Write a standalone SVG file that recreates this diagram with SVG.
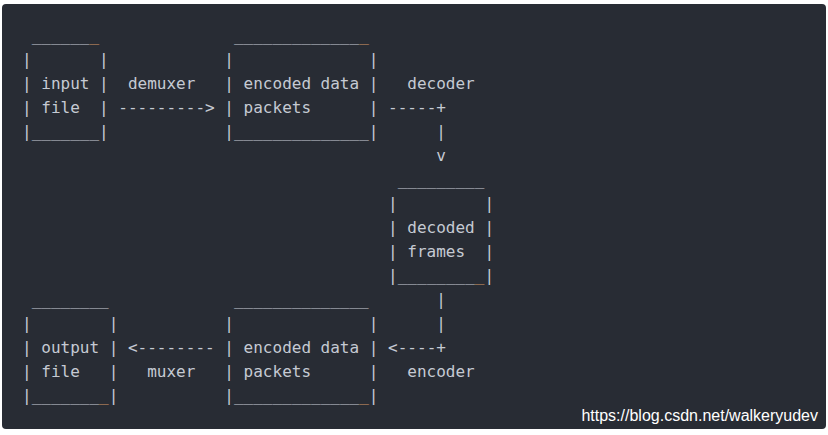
<svg xmlns="http://www.w3.org/2000/svg" width="828" height="435" viewBox="0 0 828 435">
<style>
.t{font-family:"DejaVu Sans Mono","Liberation Mono",monospace;font-size:16px;fill:#c5cad3}
.o{fill:#d19a66}
.wm{font-family:"Liberation Sans",Arial,sans-serif;font-size:16px;fill:#ffffff}
</style>
<rect x="0" y="0" width="828" height="435" fill="#ffffff"/>
<rect x="2" y="4" width="824" height="425" rx="4" fill="#282c34"/>
<g id="input-file" class="t">
<text x="31.63" y="41">______<tspan class="o">_</tspan></text>
<text x="22" y="65">|</text><text x="99.06" y="65">|</text>
<text x="22" y="89">|</text><text x="41.27" y="89">input</text><text x="99.06" y="89">|</text>
<text x="22" y="113">|</text><text x="41.27" y="113">file</text><text x="99.06" y="113">|</text>
<text x="22" y="137">|_______|</text>
</g>
<g id="encoded-packets-in" class="t">
<text x="233.9" y="41">_____________<tspan class="o">_</tspan></text>
<text x="224.3" y="65">|</text><text x="368.8" y="65">|</text>
<text x="224.3" y="89">|</text><text x="243.6" y="89">encoded</text><text x="320.6" y="89">data</text><text x="368.8" y="89">|</text>
<text x="224.3" y="113">|</text><text x="243.6" y="113">packets</text><text x="368.8" y="113">|</text>
<text x="224.3" y="137">|______________|</text>
</g>
<g id="decoded-frames" class="t">
<text x="397.7" y="185">_________</text>
<text x="388.1" y="209">|</text><text x="484.4" y="209">|</text>
<text x="388.1" y="233">|</text><text x="407.3" y="233">decoded</text><text x="484.4" y="233">|</text>
<text x="388.1" y="257">|</text><text x="407.3" y="257">frames</text><text x="484.4" y="257">|</text>
<text x="388.1" y="281">|________<tspan class="o">_</tspan>|</text>
</g>
<g id="output-file" class="t">
<text x="31.63" y="305">________</text>
<text x="22" y="329">|</text><text x="108.7" y="329">|</text>
<text x="22" y="353">|</text><text x="41.27" y="353">output</text><text x="108.7" y="353">|</text>
<text x="22" y="377">|</text><text x="41.27" y="377">file</text><text x="108.7" y="377">|</text>
<text x="22" y="401">|_______<tspan class="o">_</tspan>|</text>
</g>
<g id="encoded-packets-out" class="t">
<text x="233.9" y="305">______________</text>
<text x="224.3" y="329">|</text><text x="368.8" y="329">|</text>
<text x="224.3" y="353">|</text><text x="243.6" y="353">encoded</text><text x="320.6" y="353">data</text><text x="368.8" y="353">|</text>
<text x="224.3" y="377">|</text><text x="243.6" y="377">packets</text><text x="368.8" y="377">|</text>
<text x="224.3" y="401">|_____________<tspan class="o">_</tspan>|</text>
</g>
<g id="connectors" class="t">
<text x="127.96" y="89">demuxer</text>
<text x="118.33" y="113">---------&gt;</text>
<text x="407.3" y="89">decoder</text>
<text x="388.1" y="113">-----+</text>
<text x="436.2" y="137">|</text>
<text x="436.2" y="161">v</text>
<text x="436.2" y="305">|</text>
<text x="436.2" y="329">|</text>
<text x="388.1" y="353">&lt;----+</text>
<text x="407.3" y="377">encoder</text>
<text x="127.96" y="353">&lt;--------</text>
<text x="147.2" y="377">muxer</text>
</g>
<text class="wm" x="818" y="421" text-anchor="end">https://blog.csdn.net/walkeryudev</text>
</svg>
